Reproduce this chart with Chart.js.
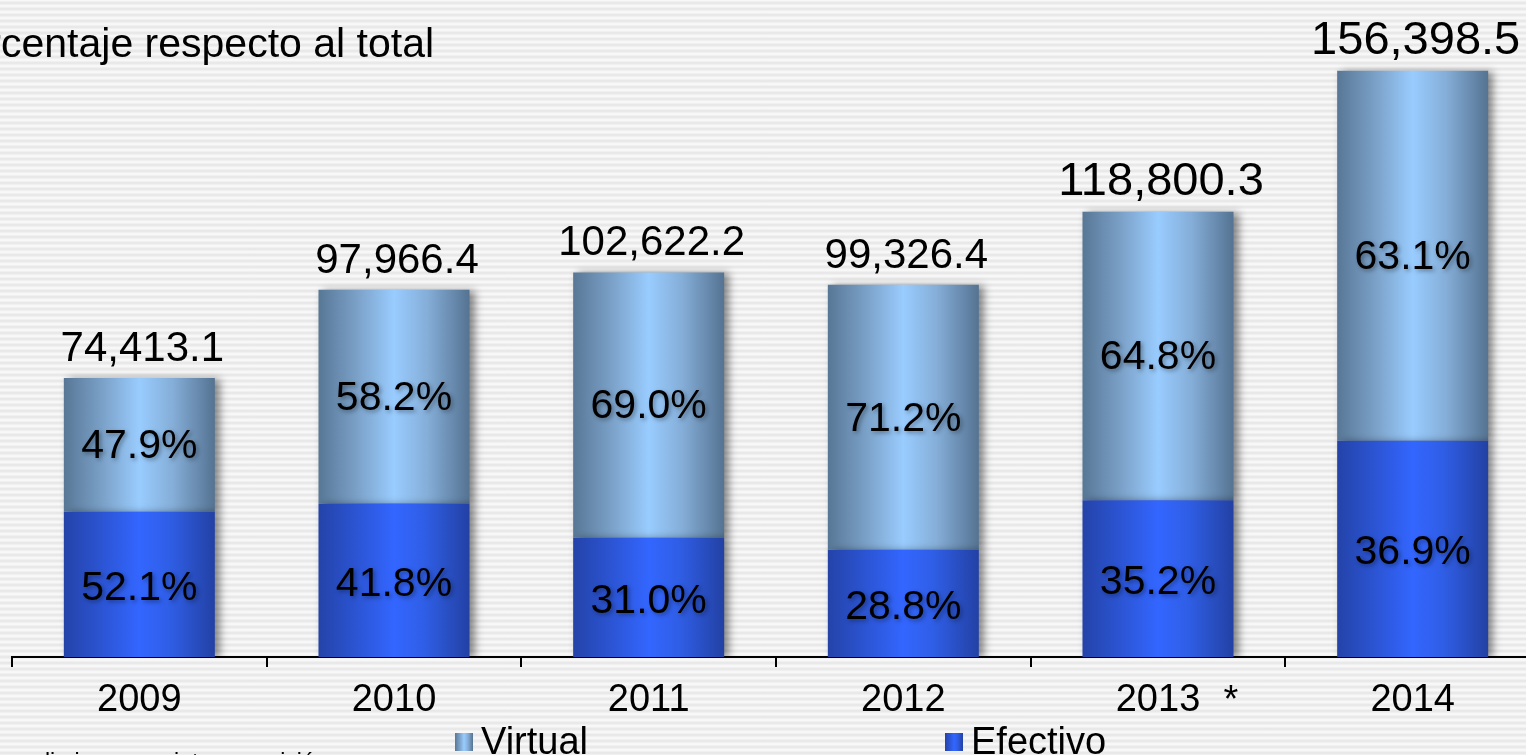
<!DOCTYPE html>
<html><head><meta charset="utf-8">
<script src="https://cdn.jsdelivr.net/npm/chart.js@4.4.1/dist/chart.umd.min.js"></script>
<style>
html,body{margin:0;padding:0;overflow:hidden;width:1526px;height:755px;
background: repeating-linear-gradient(to bottom,#fbfbfb 0px,#e5e5e5 3px,#fbfbfb 6px);}
#wrap{position:relative;width:1526px;height:755px;overflow:hidden;}
canvas{display:block;}
</style></head><body><div id="wrap"><canvas id="c" width="1545" height="755"></canvas></div>
<script>
const years = ['2009','2010','2011','2012','2013','2014'];
const efectivo = [38769.2, 40950.0, 31812.9, 28606.0, 41817.7, 57711.0];
const virtual = [35643.9, 57016.4, 70809.3, 70720.4, 76982.6, 98687.5];
const totalLabels = ['74,413.1','97,966.4','102,622.2','99,326.4','118,800.3','156,398.5'];
const efectivoPct = ['52.1%','41.8%','31.0%','28.8%','35.2%','36.9%'];
const virtualPct = ['47.9%','58.2%','69.0%','71.2%','64.8%','63.1%'];
const titleText = 'Porcentaje respecto al total';
const noteText = '* Cifras preliminares, sujetas a revisión';

const FONT = "'Liberation Sans', Arial, Helvetica, sans-serif";
const BAR_PCT = 0.593;
const virtualStops = [[0,'#587796'],[0.28,'#7ea5cd'],[0.5,'#99ccff'],[0.72,'#85aed8'],[1,'#557392']];
const efectivoStops = [[0,'#2443a9'],[0.3,'#2d58dc'],[0.5,'#3366ff'],[0.7,'#2f5ee6'],[1,'#2341a4']];

function barGradient(ctx, stops){
  const chart = ctx.chart; const xs = chart.scales && chart.scales.x;
  if(!chart.chartArea || !xs || ctx.dataIndex === undefined) return stops[2][1];
  const cx = xs.getPixelForValue(ctx.dataIndex);
  const w = (xs.getPixelForValue(1) - xs.getPixelForValue(0)) * BAR_PCT;
  const g = chart.ctx.createLinearGradient(cx - w/2, 0, cx + w/2, 0);
  stops.forEach(s => g.addColorStop(s[0], s[1]));
  return g;
}

const decor = {
  id: 'decor',
  beforeDatasetsDraw(chart){
    const c = chart.ctx; c.save();
    c.shadowColor = 'rgba(0,0,0,0.45)'; c.shadowBlur = 8; c.shadowOffsetX = 5; c.shadowOffsetY = 1;
  },
  afterDatasetsDraw(chart, args, opts){
    const c = chart.ctx; c.restore();
    const mE = chart.getDatasetMeta(0), mV = chart.getDatasetMeta(1);
    c.save();
    c.fillStyle = '#000'; c.textAlign = 'center';
    // totals
    c.textBaseline = 'alphabetic';
    mV.data.forEach((el, i) => {
      c.font = opts.totalFont[i] + 'px ' + FONT;
      c.fillText(totalLabels[i], el.x + 3, el.y - 17);
    });
    // percentages
    c.font = '41px ' + FONT; c.textBaseline = 'middle';
    c.shadowColor = 'rgba(0,0,0,0.35)'; c.shadowBlur = 4; c.shadowOffsetX = 2; c.shadowOffsetY = 2;
    mE.data.forEach((el, i) => { c.fillText(efectivoPct[i], el.x, (el.y + el.base)/2 + 4); });
    mV.data.forEach((el, i) => { c.fillText(virtualPct[i], el.x, (el.y + el.base)/2 + 2); });
    c.restore();
  },
  afterDraw(chart){
    const c = chart.ctx; c.save();
    c.fillStyle = '#000'; c.textBaseline = 'alphabetic'; c.textAlign = 'left';
    // title (clipped at left like the source)
    c.font = '41px ' + FONT;
    c.fillText(titleText, -c.measureText('Por').width + 1, 57);
    // asterisk by 2013
    c.font = '38px ' + FONT; c.textAlign = 'center';
    c.fillText('*', 1231, 712);
    // footnote (mostly cut off at bottom)
    c.textAlign = 'left'; c.font = '23px ' + FONT;
    c.fillText(noteText, 45 - c.measureText('* Cifras pre').width, 770);
    // legend
    const items = [[chart.data.datasets[1].label, virtualStops, 455], [chart.data.datasets[0].label, efectivoStops, 945]];
    c.font = '38px ' + FONT; c.textBaseline = 'alphabetic';
    items.forEach(([lab, stops, x]) => {
      const g = c.createLinearGradient(x, 0, x + 18, 0);
      stops.forEach(s => g.addColorStop(s[0], s[1]));
      c.fillStyle = g; c.fillRect(x, 733, 18, 18);
      c.fillStyle = '#000'; c.fillText(lab, x + 26, 754);
    });
    c.restore();
  }
};

new Chart(document.getElementById('c'), {
  type: 'bar',
  data: {
    labels: years,
    datasets: [
      { label: 'Efectivo', data: efectivo, backgroundColor: ctx => barGradient(ctx, efectivoStops),
        borderWidth: 0, barPercentage: BAR_PCT, categoryPercentage: 1 },
      { label: 'Virtual', data: virtual, backgroundColor: ctx => barGradient(ctx, virtualStops),
        borderWidth: 0, barPercentage: BAR_PCT, categoryPercentage: 1 }
    ]
  },
  options: {
    responsive: false, animation: false, devicePixelRatio: 1,
    layout: { padding: { left: 12, right: 5, top: 0, bottom: 0 } },
    plugins: { legend: { display: false }, tooltip: { enabled: false }, title: { display: false },
      decor: { totalFont: [42, 42, 42, 42, 47, 47] } },
    scales: {
      x: {
        stacked: true,
        border: { display: true, color: '#000', width: 2 },
        grid: { display: true, drawOnChartArea: false, drawTicks: true, tickLength: 10, color: '#000', lineWidth: 2, offset: true },
        ticks: { color: '#000', font: { size: 38, family: FONT }, padding: 11, maxRotation: 0 },
        afterFit: s => { s.height = 98; }
      },
      y: { stacked: true, display: false, min: 0, max: 175300 }
    }
  },
  plugins: [decor]
});
</script></body></html>
